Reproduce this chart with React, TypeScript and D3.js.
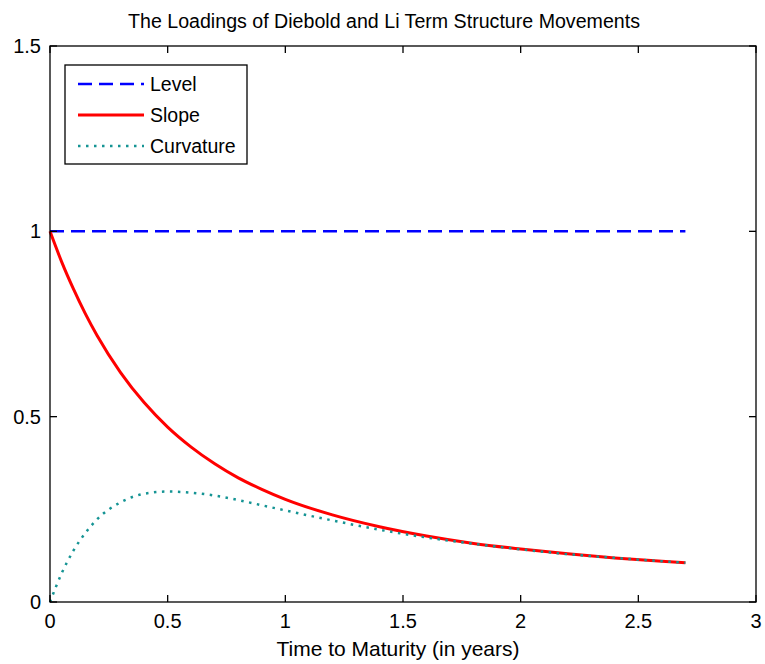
// @ts-nocheck
import React, { useEffect, useRef } from "react";
import * as d3 from "d3";

// values
const maturity = [0, 0.05, 0.1, 0.15, 0.2, 0.3, 0.4, 0.5, 0.6, 0.7, 0.8, 0.9, 1.0, 1.2, 1.4, 1.6, 1.8, 2.0, 2.2, 2.4, 2.6, 2.7];
const level = [1, 1, 1, 1, 1, 1, 1, 1, 1, 1, 1, 1, 1, 1, 1, 1, 1, 1, 1, 1, 1, 1];
const slope = [1, 0.917, 0.844, 0.778, 0.719, 0.619, 0.538, 0.472, 0.418, 0.373, 0.335, 0.304, 0.277, 0.235, 0.203, 0.178, 0.158, 0.143, 0.130, 0.119, 0.110, 0.106];
const curvature = [0, 0.078, 0.139, 0.186, 0.223, 0.269, 0.292, 0.298, 0.295, 0.287, 0.275, 0.261, 0.247, 0.220, 0.195, 0.174, 0.157, 0.142, 0.129, 0.119, 0.110, 0.106];

const xTicks = [0, 0.5, 1, 1.5, 2, 2.5, 3];
const yTicks = [0, 0.5, 1, 1.5];

const seriesNames = ["Level", "Slope", "Curvature"];

function drawChart(el) {
  const width = 765;
  const height = 664;
  const marginLeft = 50;
  const marginRight = 9;
  const marginTop = 46;
  const marginBottom = 62;
  const font = "'Liberation Sans', Arial, sans-serif";

  const x = d3.scaleLinear([0, 3], [marginLeft, width - marginRight]);
  const y = d3.scaleLinear([0, 1.5], [height - marginBottom, marginTop]);

  const styles = [
    { color: "#0000ff", width: 2.5, dash: "14,7" },
    { color: "#ff0000", width: 3, dash: null },
    { color: "#159494", width: 2.5, dash: "2.5,5.5" },
  ];
  const values = [level, slope, curvature];

  const svg = d3
    .create("svg")
    .attr("width", width)
    .attr("height", height)
    .attr("viewBox", [0, 0, width, height])
    .style("display", "block")
    .style("background", "#fff");

  // title
  svg
    .append("text")
    .attr("x", 384)
    .attr("y", 28)
    .attr("text-anchor", "middle")
    .attr("font-family", font)
    .attr("font-size", 20)
    .attr("textLength", 512)
    .attr("lengthAdjust", "spacingAndGlyphs")
    .attr("fill", "#000")
    .text("The Loadings of Diebold and Li Term Structure Movements");

  const line = d3
    .line()
    .x((d) => x(d[0]))
    .y((d) => y(d[1]))
    .curve(d3.curveMonotoneX);

  values.forEach((v, k) => {
    const pts = maturity.map((m, i) => [m, v[i]]);
    svg
      .append("path")
      .attr("d", line(pts))
      .attr("fill", "none")
      .attr("stroke", styles[k].color)
      .attr("stroke-width", styles[k].width)
      .attr("stroke-dasharray", styles[k].dash);
  });

  // box
  svg
    .append("rect")
    .attr("x", x(0))
    .attr("y", y(1.5))
    .attr("width", x(3) - x(0))
    .attr("height", y(0) - y(1.5))
    .attr("fill", "none")
    .attr("stroke", "#000")
    .attr("stroke-width", 1.3);

  const tickLen = 7;
  const ticks = svg.append("g").attr("stroke", "#000").attr("stroke-width", 1.3);
  xTicks.forEach((t) => {
    ticks.append("line").attr("x1", x(t)).attr("x2", x(t)).attr("y1", y(0)).attr("y2", y(0) - tickLen);
    ticks.append("line").attr("x1", x(t)).attr("x2", x(t)).attr("y1", y(1.5)).attr("y2", y(1.5) + tickLen);
  });
  yTicks.forEach((t) => {
    ticks.append("line").attr("x1", x(0)).attr("x2", x(0) + tickLen).attr("y1", y(t)).attr("y2", y(t));
    ticks.append("line").attr("x1", x(3)).attr("x2", x(3) - tickLen).attr("y1", y(t)).attr("y2", y(t));
  });

  const labels = svg.append("g").attr("font-family", font).attr("font-size", 20).attr("fill", "#000");
  xTicks.forEach((t) => {
    labels
      .append("text")
      .attr("x", x(t))
      .attr("y", y(0) + 26)
      .attr("text-anchor", "middle")
      .text(d3.format("~g")(t));
  });
  yTicks.forEach((t) => {
    labels
      .append("text")
      .attr("x", x(0) - 9)
      .attr("y", y(t) + 7)
      .attr("text-anchor", "end")
      .text(d3.format("~g")(t));
  });

  svg
    .append("text")
    .attr("x", 398)
    .attr("y", 656)
    .attr("text-anchor", "middle")
    .attr("font-family", font)
    .attr("font-size", 21)
    .attr("fill", "#000")
    .text("Time to Maturity (in years)");

  // legend
  const legend = svg.append("g");
  legend
    .append("rect")
    .attr("x", 65)
    .attr("y", 65)
    .attr("width", 182)
    .attr("height", 99)
    .attr("fill", "#fff")
    .attr("stroke", "#000")
    .attr("stroke-width", 1.3);
  seriesNames.forEach((name, k) => {
    const ly = 84 + k * 31;
    legend
      .append("line")
      .attr("x1", 78)
      .attr("x2", 144)
      .attr("y1", ly)
      .attr("y2", ly)
      .attr("stroke", styles[k].color)
      .attr("stroke-width", styles[k].width)
      .attr("stroke-dasharray", styles[k].dash);
    legend
      .append("text")
      .attr("x", 150)
      .attr("y", ly + 7)
      .attr("font-family", font)
      .attr("font-size", 19.5)
      .attr("fill", "#000")
      .text(name);
  });

  return svg.node();
}

export default function App() {
  const ref = useRef(null);

  useEffect(() => {
    if (!ref.current) return;
    document.body.style.margin = "0";
    const node = drawChart(ref.current);
    if (ref.current.firstChild) {
      ref.current.replaceChild(node, ref.current.firstChild);
    } else {
      ref.current.appendChild(node);
    }
  }, []);

  return <div ref={ref} />;
}
